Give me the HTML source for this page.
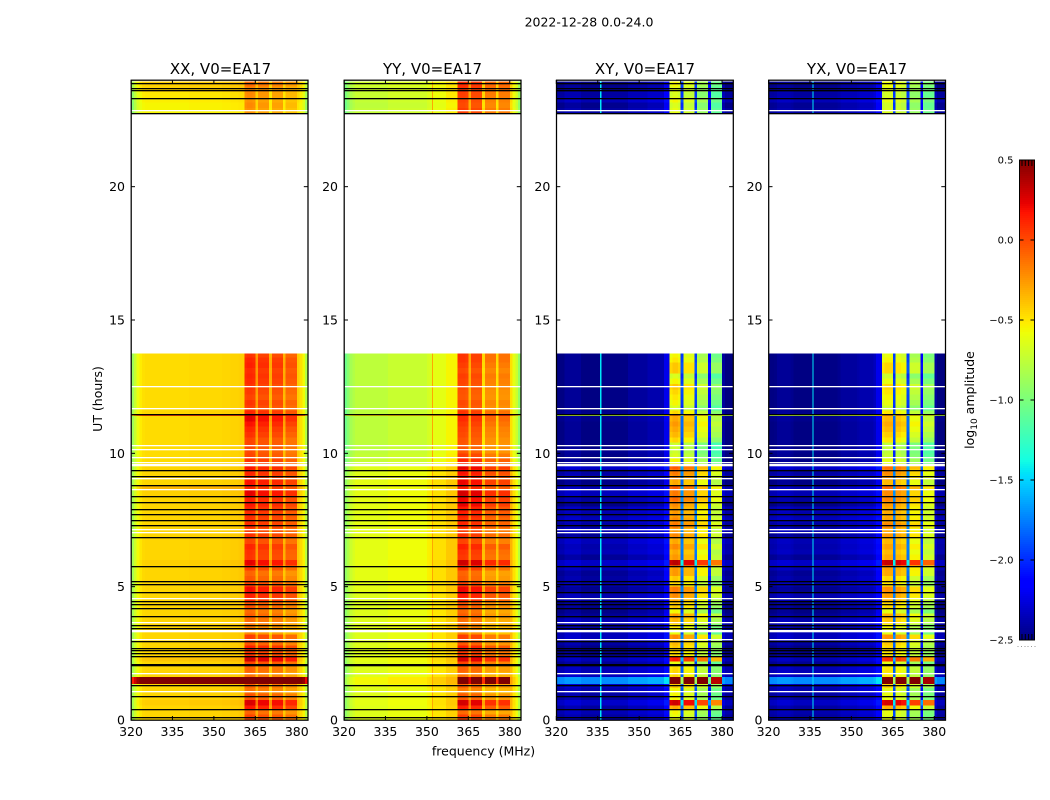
<!DOCTYPE html>
<html>
<head>
<meta charset="utf-8">
<title>2022-12-28 amplitude spectrogram</title>
<style>
html,body{margin:0;padding:0;background:#fff;width:1050px;height:800px;overflow:hidden}
svg{display:block}
text{font-family:"DejaVu Sans","Liberation Sans",sans-serif;fill:#000}
</style>
</head>
<body>
<svg id="figure" xmlns="http://www.w3.org/2000/svg" width="1050" height="800" viewBox="0 0 1050 800">
  <rect x="0" y="0" width="1050" height="800" fill="#fff"/>
  <g id="panels"></g>
  <g id="colorbar"></g>
  <text x="589" y="26.5" font-size="12.5" text-anchor="middle">2022-12-28 0.0-24.0</text>
  <text x="220.5" y="74" font-size="15" text-anchor="middle">XX, V0=EA17</text>
  <text x="432.5" y="74" font-size="15" text-anchor="middle">YY, V0=EA17</text>
  <text x="645" y="74" font-size="15" text-anchor="middle">XY, V0=EA17</text>
  <text x="857" y="74" font-size="15" text-anchor="middle">YX, V0=EA17</text>
  <text transform="translate(102,399) rotate(-90)" font-size="12.5" text-anchor="middle">UT (hours)</text>
  <text x="483.5" y="755.5" font-size="12.5" text-anchor="middle">frequency (MHz)</text>
  <text transform="translate(974,400) rotate(-90)" font-size="12.5" text-anchor="middle">log<tspan font-size="9" dy="3">10</tspan><tspan dy="-3"> amplitude</tspan></text>
</svg>
<script>
/* ---------- axis tick data ---------- */
var freqTicks = [320, 335, 350, 365, 380];
var hourTicks = [0, 5, 10, 15, 20];
var colorTicks = [0.5, 0, -0.5, -1, -1.5, -2, -2.5];

/* ---------- row edges, in UT hours; one offset per row below ---------- */
var rowEdgeHours = [
  0,0.2,0.4,0.55,0.75,1,1.2,1.35,1.62,1.8,2,2.2,2.4,2.6,2.8,3,3.2,3.4,3.6,3.8,4,4.2,4.4,4.6,
  4.8,5,5.2,5.4,5.6,5.8,6,6.2,6.4,6.6,6.8,7,7.2,7.4,7.6,7.8,8,8.2,8.4,8.6,8.8,9,9.2,9.4,
  9.6,9.8,10,10.2,10.4,10.6,10.8,11,11.2,
  11.4,11.48,
  11.6,11.8,12,12.2,12.4,12.6,12.8,13,13.2,13.4,13.6,
  13.75,
  22.75,22.95,23.15,23.35,23.55,23.75,23.95
];

/* ---------- mean log10 amplitude per 1 MHz channel, 320..383 MHz ---------- */
var spectrumXX = [
  -0.85,-0.7,-0.57,-0.5,-0.46,-0.45,-0.45,-0.45,-0.45,-0.45,-0.45,-0.45,-0.45,-0.45,-0.45,-0.45,
  -0.45,-0.45,-0.45,-0.45,-0.45,-0.44,-0.44,-0.44,-0.44,-0.44,-0.44,-0.44,-0.44,-0.44,-0.44,-0.44,
  -0.44,-0.43,-0.43,-0.43,-0.42,-0.42,-0.42,-0.41,-0.41,
  0,0.02,0.02,0,-0.28,-0.03,-0.03,-0.03,-0.03,-0.36,-0.06,-0.06,-0.06,-0.06,-0.36,-0.14,-0.14,-0.14,-0.14,-0.4,-0.46,-0.55,-0.78
];
var spectrumYY = [
  -1.05,-0.95,-0.85,-0.8,-0.76,-0.76,-0.76,-0.76,-0.76,-0.76,-0.76,-0.76,-0.76,-0.76,-0.76,-0.76,
  -0.72,-0.72,-0.72,-0.72,-0.72,-0.72,-0.72,-0.72,-0.72,-0.72,-0.72,-0.72,-0.72,-0.72,-0.68,-0.66,
  -0.62,-0.62,-0.62,-0.62,-0.62,-0.55,-0.55,-0.55,-0.55,
  0.02,0.02,0.02,0,-0.32,-0.02,-0.02,-0.02,-0.02,-0.48,-0.18,-0.18,-0.18,-0.18,-0.48,-0.18,-0.18,-0.18,-0.18,-0.48,-0.62,-0.72,-0.92
];
var spectrumXY = [
  -2.47,-2.47,-2.47,-2.42,-2.42,-2.42,-2.42,-2.42,-2.42,-2.47,-2.47,-2.47,-2.47,-2.47,-2.47,-2.47,
  -2.47,-2.46,-2.46,-2.46,-2.46,-2.46,-2.46,-2.46,-2.46,-2.46,-2.4,-2.4,-2.4,-2.4,-2.4,-2.4,
  -2.4,-2.36,-2.36,-2.36,-2.36,-2.36,-2.36,-2.2,-2.2,
  -0.5,-0.45,-0.45,-0.5,-1.9,-0.55,-0.55,-0.55,-0.55,-1.9,-0.75,-0.75,-0.75,-0.75,-2.1,-0.95,-0.95,-0.95,-0.95,-2.4,-2.48,-2.48,-2.48
];
var spectrumYX = [
  -2.47,-2.47,-2.46,-2.42,-2.42,-2.42,-2.42,-2.42,-2.44,-2.47,-2.47,-2.47,-2.47,-2.47,-2.47,-2.47,
  -2.47,-2.46,-2.46,-2.46,-2.46,-2.46,-2.46,-2.46,-2.46,-2.44,-2.4,-2.4,-2.4,-2.4,-2.4,-2.4,
  -2.38,-2.36,-2.36,-2.36,-2.36,-2.36,-2.32,-2.2,-2.2,
  -0.55,-0.5,-0.5,-0.5,-1.9,-0.55,-0.55,-0.6,-0.6,-1.9,-0.75,-0.75,-0.75,-0.75,-2.1,-0.9,-0.9,-0.9,-0.9,-2.4,-2.48,-2.48,-2.48
];

/* ---------- per-row offsets, low band (below 361 MHz and above 380 MHz) ---------- */
var lowXX = [
  0,0,0,0.03,0,0,0,1,0,0,0,0.05,0,0,0,0,0,0,0,0,0,0,0,0,
  0,0,0,0,0,0.02,0,0,0,0,0,0,0,0,0,0,0,0,0.02,0.1,0,0,0,0,
  -0.02,-0.02,-0.02,-0.02,-0.02,-0.02,-0.02,-0.02,-0.02,
  0.45,0,
  -0.02,-0.02,-0.02,-0.02,-0.02,-0.02,-0.02,-0.02,-0.02,-0.02,-0.02,
  null,
  -0.1,-0.1,-0.08,-0.06,0,0.02
];
var lowYY = [
  0.12,0.12,0.12,0.14,0.12,0.12,0.14,0.2,0.12,0.12,0.12,0.15,0.12,0.12,0.12,0.12,0.12,0.12,0.12,0.12,0.12,0.12,0.12,0.12,
  0.14,0.14,0.14,0.14,0.14,0.16,0.14,0.14,0.14,0.14,0.14,0.14,0.14,0.14,0.14,0.14,0.14,0.14,0.14,0.14,0.14,0.14,0.12,0.12,
  0.03,0.02,0,0,0,0,0,0,0,
  0.3,0,
  0,0,0,0,0,0,0,0,0,0,0,
  null,
  0.02,0,0.02,0.04,0.04,0.06
];
var lowXY = [
  0.05,0.1,0.05,0.15,0.05,0.08,0.12,0.75,0.12,0.1,0.02,0.1,-0.02,-0.02,0.05,0.12,0.1,0.05,0.1,0.02,-0.02,0,0.05,0.08,
  0,0.08,0.05,0.02,0.1,0.15,0.02,0.1,0.08,0.12,0.02,0.1,0.05,0.12,0.08,0.1,-0.02,0.05,0.12,0.1,-0.02,0.08,0.05,0.15,
  -0.02,-0.02,0,-0.02,-0.02,-0.02,-0.02,-0.02,0,
  1.7,0,
  -0.02,-0.02,-0.02,-0.02,-0.02,-0.02,-0.02,-0.02,-0.02,-0.02,-0.02,
  null,
  0.05,0,0.1,0.05,0,-0.02
];
var lowYX = [
  0.05,0.08,0.05,0.14,0.05,0.08,0.1,0.75,0.12,0.1,0.02,0.1,-0.02,-0.02,0.05,0.12,0.1,0.05,0.08,0.02,-0.02,0,0.05,0.08,
  0,0.08,0.05,0.02,0.1,0.15,0.02,0.1,0.08,0.1,0.02,0.1,0.05,0.12,0.08,0.1,-0.02,0.05,0.1,0.1,-0.02,0.08,0.05,0.15,
  -0.02,-0.02,0,-0.02,-0.02,-0.02,-0.02,-0.02,0,
  1.7,0,
  -0.02,-0.02,-0.02,-0.02,-0.02,-0.02,-0.02,-0.02,-0.02,-0.02,-0.02,
  null,
  0.05,0.02,0.1,0.05,0,-0.02
];

/* ---------- per-row offsets, high band (361..380 MHz) ---------- */
var highXX = [
  0,-0.1,0.15,0.25,-0.05,-0.15,-0.1,0.9,-0.15,-0.1,0,0.28,0.05,0.12,-0.05,0.02,-0.22,-0.18,-0.12,-0.08,-0.12,-0.05,0.08,0.12,
  0.18,0,-0.06,-0.1,0.02,0.22,0.05,0.06,0.1,0,0.06,0.02,0.08,0.06,0.08,0.1,0.15,0.12,0.22,0.1,0.16,0.08,0.1,0.15,
  0.06,0,-0.02,0,0,0.06,0.1,0.16,0.22,
  0.3,0.1,
  0.02,0.05,0,0.03,0.05,0.08,0.1,0.08,0.12,0.1,0.05,
  null,
  -0.25,-0.22,-0.25,-0.22,-0.2,-0.12
];
var highYY = [
  0.02,-0.12,0.12,0.26,-0.08,-0.18,-0.1,0.9,-0.16,-0.1,0,0.26,0.04,0.12,-0.06,0.02,-0.22,-0.18,-0.14,-0.08,-0.12,-0.06,0.08,0.14,
  0.2,0,-0.08,-0.1,0.04,0.28,0.04,0.06,0.12,0,0.06,0.02,0.1,0.08,0.12,0.14,0.22,0.2,0.26,0.12,0.2,0.12,0.16,0.22,
  0.1,0.02,-0.06,-0.06,-0.05,-0.02,0,0.04,0.08,
  0.3,0.05,
  -0.04,-0.02,-0.06,-0.05,-0.02,0,0.02,-0.02,0.02,0.05,0.05,
  null,
  0.02,-0.02,0,0.02,0.06,0.08
];
var highXY = [
  -0.15,-0.1,0.15,0.75,-0.1,-0.1,0.05,1.3,0,0,-0.15,0.6,0,0.05,0.1,0.25,-0.15,-0.05,0.1,0.2,-0.1,0.05,0.15,0.25,
  0.3,0,0.05,0.2,0.2,0.8,0.2,0.15,0.25,0.15,0.25,0.2,0.3,0.25,0.2,0.2,0.25,0.35,0.3,0.4,0.15,0.25,0.3,0.4,
  -0.1,-0.2,-0.25,-0.25,0,0.1,0.15,0.2,0.15,
  0.3,0,
  -0.2,-0.1,-0.05,0,0.05,-0.1,-0.2,0.05,0.05,-0.05,-0.1,
  null,
  -0.15,-0.2,-0.1,-0.2,-0.15,-0.1
];
var highYX = [
  -0.12,-0.1,0.18,0.78,-0.1,-0.12,0.05,1.3,-0.02,0,-0.12,0.58,0,0.05,0.1,0.28,-0.12,-0.05,0.1,0.18,-0.1,0.05,0.15,0.24,
  0.28,0,0.05,0.2,0.22,0.82,0.2,0.15,0.22,0.15,0.25,0.2,0.3,0.22,0.2,0.2,0.25,0.32,0.3,0.4,0.15,0.25,0.3,0.38,
  -0.12,-0.22,-0.25,-0.25,0,0.08,0.15,0.2,0.15,
  0.3,0,
  -0.2,-0.1,-0.05,0,0.05,-0.1,-0.2,0.05,0.05,-0.05,-0.1,
  null,
  -0.15,-0.18,-0.1,-0.18,-0.12,-0.08
];

/* ---------- narrow interference lines: one MHz list and one value list per panel ---------- */
var lineFreqXX = [];
var lineValueXX = [];
var lineFreqYY = [351.8];
var lineValueYY = [-0.3];
var lineFreqXY = [335.9];
var lineValueXY = [-1.45];
var lineFreqYX = [335.9];
var lineValueYX = [-1.45];

/* ---------- flagged integrations, in UT hours ---------- */
var flaggedBlackHours = [
  11.46,9.375,9.15,8.81,8.4,8.14,7.91,7.69,7.5,7.28,6.86,5.74,5.18,5.1,4.8,4.43,4.35,4.2,3.9,3.53,3.45,
  2.93,2.7,2.59,2.51,2.4,2.08,2.04,1.31,0.9,0.41,0.11,23.88,23.7,23.6,23.3,22.73
];
var flaggedWhiteHours = [
  12.51,11.69,10.29,10.15,9.85,9.65,9.6,9.55,9.06,8.65,7.15,7.02,4.55,3.66,3.36,3.31,3.03,1.75,1.06,22.85
];

var panelNames = ['xx', 'yy', 'xy', 'yx'];
var panelLeft = [131, 344, 556.3, 768.5];
var panelWidth = 176.8;
var panelTop = 80;
var panelBottom = 720;

var SVG_NS = 'http://www.w3.org/2000/svg';
var root = document.getElementById('panels');
var cbRoot = document.getElementById('colorbar');

function xScale(p, mhz) { return panelLeft[p] + (mhz - 320) * panelWidth / 64; }
function yScale(h) { return panelBottom - h * (panelBottom - panelTop) / 24; }
function cbScale(v) { return 640 - (v + 2.5) * 480 / 3; }

function jetChannel(x, pts) {
  for (var i = 1; i < pts.length; i++) {
    if (x <= pts[i][0]) {
      var a = pts[i - 1], b = pts[i];
      return a[1] + (b[1] - a[1]) * (x - a[0]) / (b[0] - a[0]);
    }
  }
  return pts[pts.length - 1][1];
}
var jetR = [[0,0],[0.35,0],[0.66,1],[0.89,1],[1,0.5]];
var jetG = [[0,0],[0.125,0],[0.375,1],[0.64,1],[0.91,0],[1,0]];
var jetB = [[0,0.5],[0.11,1],[0.34,1],[0.65,0],[1,0]];
function color(v) {
  var n = Math.max(0, Math.min(1, (v + 2.5) / 3));
  return 'rgb(' + Math.round(255 * jetChannel(n, jetR)) + ',' +
    Math.round(255 * jetChannel(n, jetG)) + ',' +
    Math.round(255 * jetChannel(n, jetB)) + ')';
}

function svgRect(parent, x, y, w, h, fill) {
  var el = document.createElementNS(SVG_NS, 'rect');
  el.setAttribute('x', x);
  el.setAttribute('y', y);
  el.setAttribute('width', w);
  el.setAttribute('height', h);
  el.setAttribute('fill', fill);
  el.setAttribute('shape-rendering', 'crispEdges');
  parent.appendChild(el);
  return el;
}
function svgLine(parent, x1, y1, x2, y2) {
  var el = document.createElementNS(SVG_NS, 'line');
  el.setAttribute('x1', x1);
  el.setAttribute('y1', y1);
  el.setAttribute('x2', x2);
  el.setAttribute('y2', y2);
  el.setAttribute('stroke', '#000');
  el.setAttribute('stroke-width', '1');
  parent.appendChild(el);
  return el;
}
function svgText(parent, x, y, str, size, anchor) {
  var el = document.createElementNS(SVG_NS, 'text');
  el.setAttribute('x', x);
  el.setAttribute('y', y);
  el.setAttribute('font-size', size);
  el.setAttribute('text-anchor', anchor);
  el.textContent = str;
  parent.appendChild(el);
  return el;
}
function isStripe(mhz) { return (mhz >= 361 && mhz <= 364) || (mhz >= 366 && mhz <= 369) || (mhz >= 371 && mhz <= 374) || (mhz >= 376 && mhz <= 379); }
function isGap(mhz) { return mhz === 365 || mhz === 370 || mhz === 375; }

function cellValue(spectrum, low, high, f, r) {
  var mhz = 320 + f;
  if (isStripe(mhz)) return spectrum[f] + high[r];
  if (isGap(mhz)) return spectrum[f] + (low[r] + high[r]) / 2;
  return spectrum[f] + low[r];
}

function drawPanel(p, spectrum, low, high, lineFreq, lineValue) {
  var g = document.createElementNS(SVG_NS, 'g');
  
  
  root.appendChild(g);

  for (var r = 0; r < rowEdgeHours.length - 1; r++) {
    if (low[r] === null) continue;
    var yTop = yScale(rowEdgeHours[r + 1]);
    var yBot = yScale(rowEdgeHours[r]);
    for (var f = 0; f < spectrum.length; f++) {
      var x0 = xScale(p, 320 + f);
      var x1 = xScale(p, 321 + f);
      var cell = svgRect(g, x0, yTop, x1 - x0, yBot - yTop, color(cellValue(spectrum, low, high, f, r)));
      
      
    }
    for (var k = 0; k < lineFreq.length; k++) {
      var rfi = svgRect(g, xScale(p, lineFreq[k]), yTop, 1.2, yBot - yTop, color(lineValue[k]));
      
      
    }
  }

  flaggedWhiteHours.forEach(function (h) {
    var w = svgRect(g, xScale(p, 320), Math.floor(yScale(h)), panelWidth, 1.3, '#fff');
    w.setAttribute('shape-rendering', 'auto');
    
    
  });
  flaggedBlackHours.forEach(function (h) {
    var b = svgRect(g, xScale(p, 320), Math.floor(yScale(h)), panelWidth, 1.3, '#000');
    b.setAttribute('shape-rendering', 'auto');
    
    
  });

  var frame = document.createElementNS(SVG_NS, 'rect');
  frame.setAttribute('x', panelLeft[p] + 0.2);
  frame.setAttribute('y', panelTop + 0.2);
  frame.setAttribute('width', panelWidth);
  frame.setAttribute('height', panelBottom - panelTop);
  frame.setAttribute('fill', 'none');
  frame.setAttribute('stroke', '#000');
  frame.setAttribute('stroke-width', '1.25');
  
  
  g.appendChild(frame);

  freqTicks.forEach(function (t) {
    var x = xScale(p, t);
    var tb = svgLine(g, x, panelBottom, x, panelBottom - 4);
    
    
    var tt = svgLine(g, x, panelTop, x, panelTop + 4);
    
    
    var lab = svgText(g, x, 736, String(t), 12.5, 'middle');
    
    
  });
  hourTicks.forEach(function (t) {
    var y = yScale(t);
    var tl = svgLine(g, panelLeft[p], y, panelLeft[p] + 4, y);
    
    
    var tr = svgLine(g, panelLeft[p] + panelWidth, y, panelLeft[p] + panelWidth - 4, y);
    
    
    var lab = svgText(g, panelLeft[p] - 6, y + 4.5, String(t), 12.5, 'end');
    
    
  });
}

drawPanel(0, spectrumXX, lowXX, highXX, lineFreqXX, lineValueXX);
drawPanel(1, spectrumYY, lowYY, highYY, lineFreqYY, lineValueYY);
drawPanel(2, spectrumXY, lowXY, highXY, lineFreqXY, lineValueXY);
drawPanel(3, spectrumYX, lowYX, highYX, lineFreqYX, lineValueYX);

/* ---------- colorbar ---------- */
(function () {
  var L = 1019.5, W = 15, i;
  for (i = 0; i < 240; i++) {
    var v = -2.5 + 3 * (i + 0.5) / 240;
    var s = svgRect(cbRoot, L, 640 - (i + 1) * 2, W, 2, color(v));
    
    
  }
  var frame = document.createElementNS(SVG_NS, 'rect');
  frame.setAttribute('x', L);
  frame.setAttribute('y', 160);
  frame.setAttribute('width', W);
  frame.setAttribute('height', 480);
  frame.setAttribute('fill', 'none');
  frame.setAttribute('stroke', '#000');
  frame.setAttribute('stroke-width', '1');
  
  
  cbRoot.appendChild(frame);

  colorTicks.forEach(function (t) {
    var y = cbScale(t);
    var a = svgLine(cbRoot, L, y, L + 4, y);
    
    
    var b = svgLine(cbRoot, L + W, y, L + W - 4, y);
    
    
    var str = (t < 0 ? '\u2212' : '') + Math.abs(t).toFixed(1);
    var lab = svgText(cbRoot, 1013.5, y + 3.5, str, 10, 'end');
    
    
  });

  for (i = 0; i < 4; i++) {
    var x = L + 2.5 + i * 3.3;
    var mt = svgLine(cbRoot, x, 160, x, 166);
    
    
    var mb = svgLine(cbRoot, x, 634, x, 640);
    
    
  }
  for (i = 0; i < 6; i++) {
    var d = svgRect(cbRoot, 1017.5 + i * 3.4, 646, 1, 1, '#999');
    
    
  }
})();
</script>
</body>
</html>
